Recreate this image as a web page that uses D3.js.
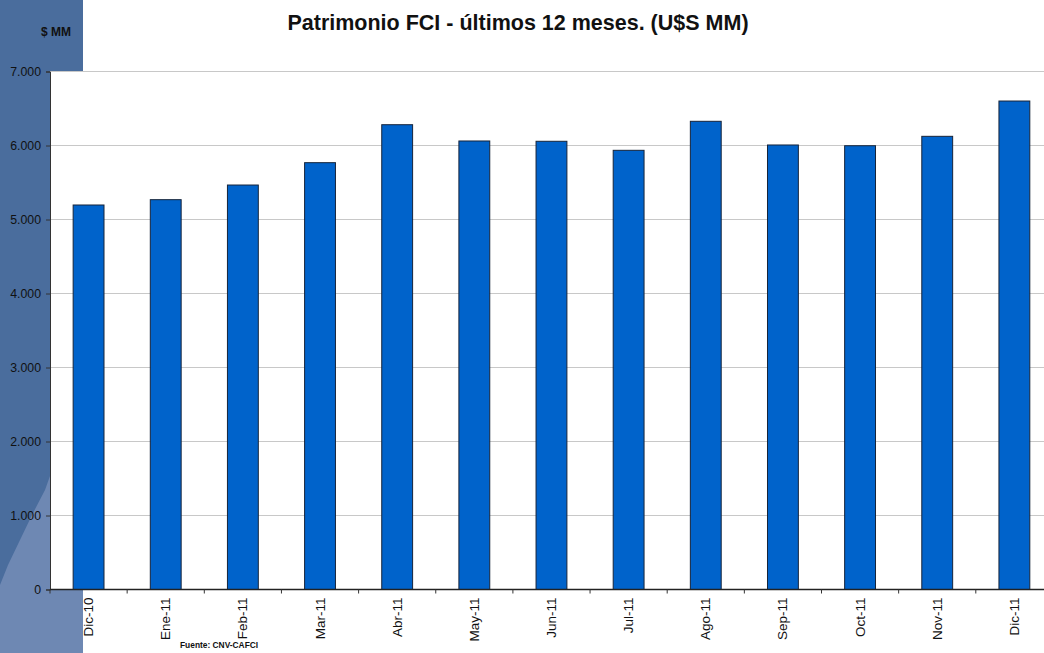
<!DOCTYPE html>
<html><head><meta charset="utf-8">
<script src="https://cdn.jsdelivr.net/npm/d3@7"></script>
<style>body{margin:0;background:#fff}svg{display:block;font-family:"Liberation Sans",Arial,sans-serif}</style>
</head><body><svg id="c" width="1044" height="653"></svg>
<script>
const categories = ["Dic-10","Ene-11","Feb-11","Mar-11","Abr-11","May-11","Jun-11","Jul-11","Ago-11","Sep-11","Oct-11","Nov-11","Dic-11"];
const values = [5196, 5268, 5466, 5768, 6281, 6061, 6057, 5935, 6327, 6007, 5997, 6124, 6601];
const yTicks = [0,1000,2000,3000,4000,5000,6000,7000];
const title = "Patrimonio FCI - últimos 12 meses. (U$S MM)";
const unitLabel = "$ MM";
const source = "Fuente: CNV-CAFCI";

const svg = d3.select("#c");
const L = 50, T = 71.5, B = 589.5, R = 50 + 13*77.15;

// decorative left strip
svg.append("rect").attr("x",0).attr("y",0).attr("width",83).attr("height",653).attr("fill","#4a6d9d");
svg.append("path").attr("d","M50,476 L45,490 L32,515 L20,540 L8,565 L0,585 L0,653 L83,653 L83,476 Z").attr("fill","#6e88b3");

// plot area
svg.append("rect").attr("x",L).attr("y",T).attr("width",R-L).attr("height",B-T).attr("fill","#fff");

const x = d3.scaleBand().domain(categories).range([L,R]).paddingInner(0.6).paddingOuter(0.3);
const y = d3.scaleLinear().domain([0,7000]).range([B,T]);

// gridlines
svg.append("g").selectAll("line").data(yTicks.filter(d=>d>0)).join("line")
  .attr("x1",L).attr("x2",R).attr("y1",d=>y(d)).attr("y2",d=>y(d))
  .attr("stroke","#c8c8c8").attr("stroke-width",1);

// bars
svg.append("g").selectAll("rect").data(values).join("rect")
  .attr("x",(d,i)=>x(categories[i])).attr("width",x.bandwidth())
  .attr("y",d=>y(d)).attr("height",d=>B-y(d))
  .attr("fill","#0063cb").attr("stroke","#16243a").attr("stroke-width",1);

// y axis
const ya = svg.append("g").attr("transform",`translate(${L},0)`)
  .call(d3.axisLeft(y).tickValues(yTicks).tickSize(4).tickPadding(5)
    .tickFormat(d=>d3.format(",")(d).replace(/,/g,".")));
ya.select(".domain").attr("stroke","#333");
ya.selectAll(".tick line").attr("stroke","#333");
ya.selectAll("text").attr("font-size",12.3).attr("fill","#111").attr("font-family","Liberation Sans, Arial, sans-serif");

// x axis
const step = (R-L)/13;
const xa = svg.append("g").attr("transform",`translate(0,${B})`);
xa.append("line").attr("x1",L).attr("x2",R).attr("stroke","#222").attr("stroke-width",1.3);
xa.selectAll("line.t").data(d3.range(14)).join("line").attr("class","t")
  .attr("x1",i=>L+i*step).attr("x2",i=>L+i*step).attr("y1",0).attr("y2",4).attr("stroke","#333");
xa.selectAll("text").data(categories).join("text")
  .attr("transform",d=>`translate(${x(d)+x.bandwidth()/2+4.5},8) rotate(-90)`)
  .attr("text-anchor","end").attr("font-size",13.5).attr("fill","#111").text(d=>d);

// texts
svg.append("text").attr("x",518).attr("y",30).attr("text-anchor","middle")
  .attr("font-weight","bold").attr("font-size",21.5).attr("fill","#111").text(title);
svg.append("text").attr("x",71).attr("y",36).attr("text-anchor","end")
  .attr("font-weight","bold").attr("font-size",12).attr("fill","#111").text(unitLabel);
svg.append("text").attr("x",180).attr("y",648)
  .attr("font-weight","bold").attr("font-size",8.4).attr("fill","#111").text(source);
</script></body></html>
